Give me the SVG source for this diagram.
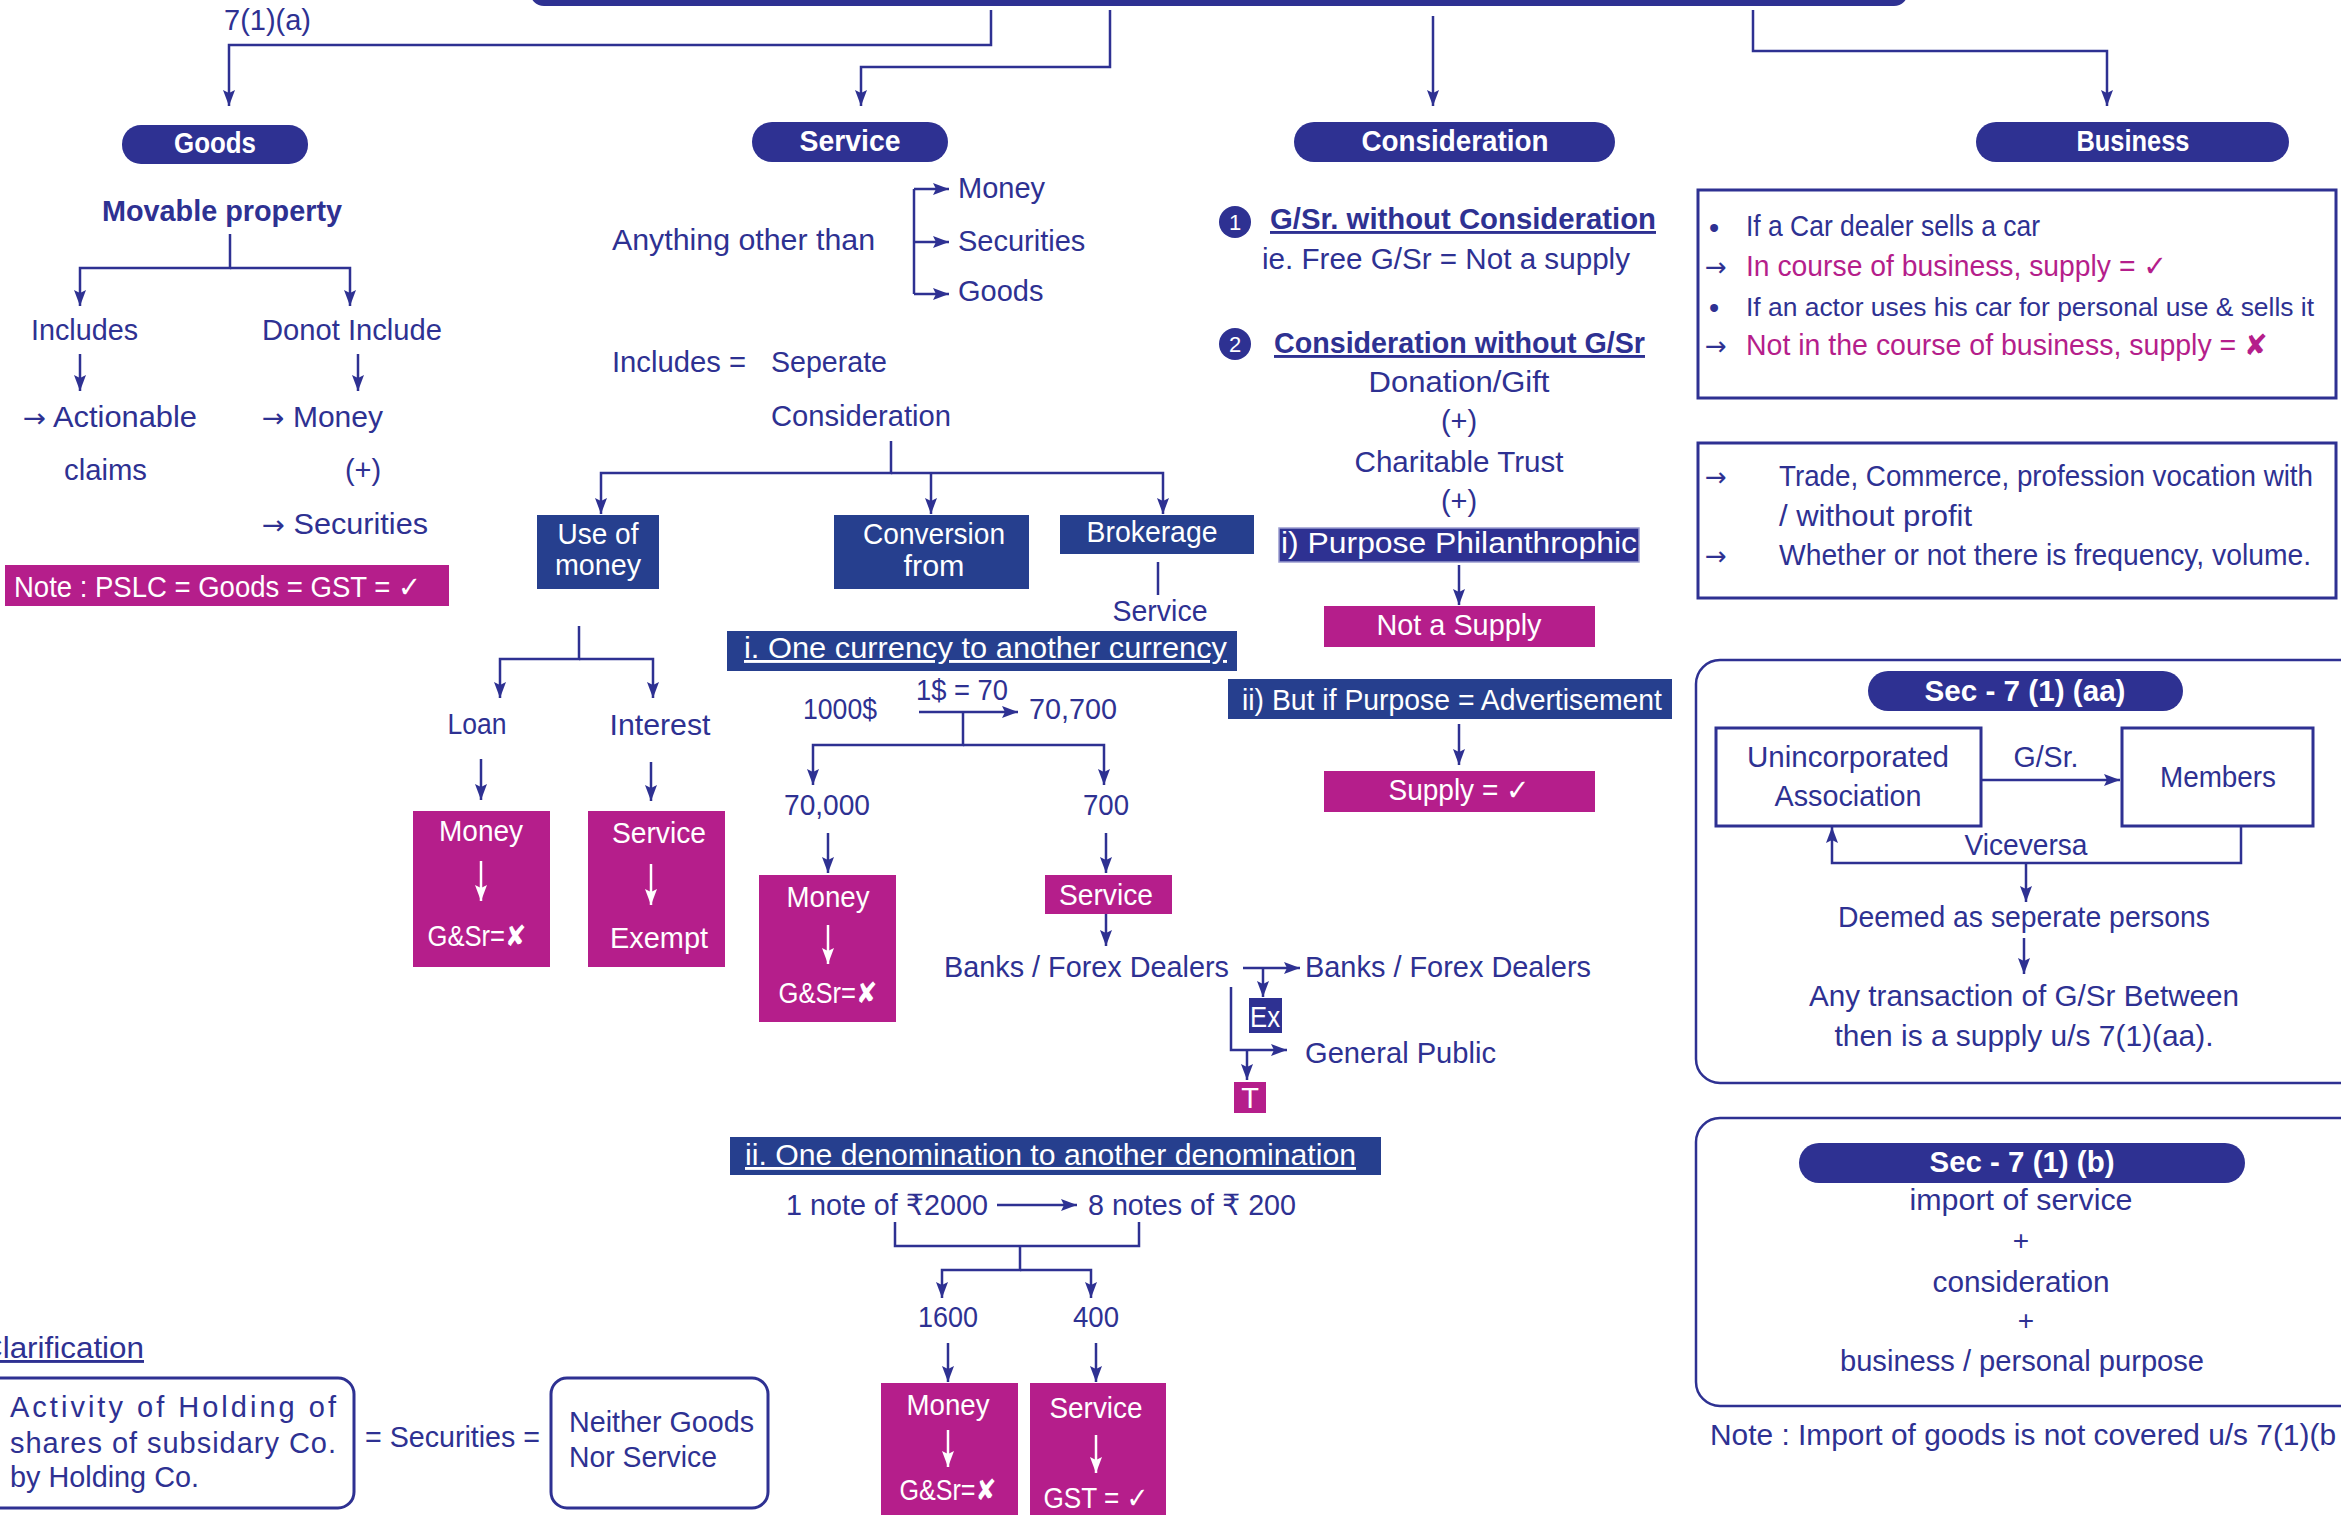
<svg xmlns="http://www.w3.org/2000/svg" width="2341" height="1515" viewBox="0 0 2341 1515">
<defs>
<marker id="ah" markerUnits="userSpaceOnUse" viewBox="0 0 16 12" refX="16" refY="6" markerWidth="16" markerHeight="12" orient="auto"><path d="M0,0 L16,6 L0,12 L3,6 Z" fill="#2E3192"/></marker>
<marker id="aw" markerUnits="userSpaceOnUse" viewBox="0 0 16 12" refX="16" refY="6" markerWidth="16" markerHeight="12" orient="auto"><path d="M0,0 L16,6 L0,12 L3,6 Z" fill="#FFFFFF"/></marker>
<style>
text{font-family:"Liberation Sans","DejaVu Sans","Noto Sans",sans-serif;font-size:29px;fill:#2E3192}
.w{fill:#FFFFFF}
.b{font-weight:bold}
.mt{fill:#B51E8B}
.c{text-anchor:middle}
.u{text-decoration:underline}
.ar{font-family:"DejaVu Sans",sans-serif;font-size:26px}
.ln{fill:none;stroke:#2E3192;stroke-width:2.5}
.arr{marker-end:url(#ah)}
.wl{fill:none;stroke:#FFFFFF;stroke-width:2.5;marker-end:url(#aw)}
.pill{fill:#2E3192}
.box{fill:#263F8E}
.mag{fill:#B51E8B}
.frame{fill:none;stroke:#2E3192;stroke-width:3}
</style>
</defs>
<rect width="2341" height="1515" fill="#FFFFFF"/>
<g id="top-bar"><rect x="530" y="-40" width="1378" height="46" rx="14" class="pill"/></g>

<g id="connectors">
<path d="M991,10 V45 H229 V106" class="ln arr"/>
<path d="M1110,10 V67 H861 V106" class="ln arr"/>
<path d="M1433,16 V106" class="ln arr"/>
<path d="M1753,10 V51 H2107 V106" class="ln arr"/>
<path d="M230,234 V268 H80 V306" class="ln arr"/>
<path d="M230,268 H350 V306" class="ln arr"/>
<path d="M80,354 V391" class="ln arr"/>
<path d="M358,354 V391" class="ln arr"/>
<path d="M914,189 V294" class="ln"/>
<path d="M914,189 H949" class="ln arr"/>
<path d="M914,242 H949" class="ln arr"/>
<path d="M914,294 H949" class="ln arr"/>
<path d="M891,441 V473 H601 V514" class="ln arr"/>
<path d="M891,473 H1163 V514" class="ln arr"/>
<path d="M931,473 V514" class="ln arr"/>
<path d="M1158,562 V595" class="ln"/>
<path d="M579,626 V659 H500 V698" class="ln arr"/>
<path d="M579,659 H653 V698" class="ln arr"/>
<path d="M481,759 V800" class="ln arr"/>
<path d="M651,762 V801" class="ln arr"/>
<path d="M919,712 H1018" class="ln arr"/>
<path d="M963,712 V745 H813 V785" class="ln arr"/>
<path d="M963,745 H1104 V785" class="ln arr"/>
<path d="M828,833 V873" class="ln arr"/>
<path d="M1106,833 V873" class="ln arr"/>
<path d="M1106,914 V946" class="ln arr"/>
<path d="M1243,968 H1300" class="ln arr"/>
<path d="M1263,968 V997" class="ln arr"/>
<path d="M1231,987 V1050 H1287" class="ln arr"/>
<path d="M1247,1050 V1080" class="ln arr"/>
<path d="M997,1205 H1077" class="ln arr"/>
<path d="M895,1222 V1246 H1139 V1222" class="ln"/>
<path d="M1020,1246 V1270 H942 V1298" class="ln arr"/>
<path d="M1020,1270 H1091 V1298" class="ln arr"/>
<path d="M948,1343 V1382" class="ln arr"/>
<path d="M1096,1343 V1382" class="ln arr"/>
<path d="M1459,565 V605" class="ln arr"/>
<path d="M1459,724 V765" class="ln arr"/>
<path d="M1981,780 H2120" class="ln arr"/>
<path d="M2241,826 V863 H1832 V827" class="ln arr"/>
<path d="M2026,863 V902" class="ln arr"/>
<path d="M2024,938 V974" class="ln arr"/>
</g>

<g id="label-7-1-a"><text x="224" y="30" textLength="87" lengthAdjust="spacingAndGlyphs">7(1)(a)</text></g>

<g id="goods">
<rect x="122" y="125" width="186" height="39" rx="19" class="pill"/>
<text x="215" y="153" class="w b c" textLength="82" lengthAdjust="spacingAndGlyphs">Goods</text>
<text x="102" y="221" class="b" textLength="240" lengthAdjust="spacingAndGlyphs">Movable property</text>
<text x="31" y="340" textLength="107" lengthAdjust="spacingAndGlyphs">Includes</text>
<text x="262" y="340" textLength="180" lengthAdjust="spacingAndGlyphs">Donot Include</text>
<text x="23" y="427" textLength="174" lengthAdjust="spacingAndGlyphs"><tspan class="ar">→</tspan> Actionable</text>
<text x="64" y="480" textLength="83" lengthAdjust="spacingAndGlyphs">claims</text>
<text x="262" y="427" textLength="121" lengthAdjust="spacingAndGlyphs"><tspan class="ar">→</tspan> Money</text>
<text x="363" y="480" class="c">(+)</text>
<text x="262" y="534" textLength="166" lengthAdjust="spacingAndGlyphs"><tspan class="ar">→</tspan> Securities</text>
</g>
<g id="note-pslc">
<rect x="5" y="565" width="444" height="41" class="mag"/>
<text x="14" y="597" class="w" textLength="407" lengthAdjust="spacingAndGlyphs">Note : PSLC = Goods = GST = ✓</text>
</g>

<g id="service">
<rect x="752" y="122" width="196" height="40" rx="20" class="pill"/>
<text x="850" y="151" class="w b c" textLength="101" lengthAdjust="spacingAndGlyphs">Service</text>
<text x="612" y="250" textLength="263" lengthAdjust="spacingAndGlyphs">Anything other than</text>
<text x="958" y="198">Money</text>
<text x="958" y="251">Securities</text>
<text x="958" y="301">Goods</text>
<text x="612" y="372" textLength="134" lengthAdjust="spacingAndGlyphs">Includes =</text>
<text x="771" y="372" textLength="116" lengthAdjust="spacingAndGlyphs">Seperate</text>
<text x="771" y="426" textLength="180" lengthAdjust="spacingAndGlyphs">Consideration</text>
</g>

<g id="use-of-money">
<rect x="537" y="515" width="122" height="74" class="box"/>
<text x="598" y="544" class="w c" textLength="81" lengthAdjust="spacingAndGlyphs">Use of</text>
<text x="598" y="575" class="w c" textLength="86" lengthAdjust="spacingAndGlyphs">money</text>
</g>
<g id="conversion-from">
<rect x="834" y="515" width="195" height="74" class="box"/>
<text x="934" y="544" class="w c" textLength="142" lengthAdjust="spacingAndGlyphs">Conversion</text>
<text x="934" y="576" class="w c" textLength="61" lengthAdjust="spacingAndGlyphs">from</text>
</g>
<g id="brokerage">
<rect x="1060" y="515" width="194" height="39" class="box"/>
<text x="1152" y="542" class="w c" textLength="131" lengthAdjust="spacingAndGlyphs">Brokerage</text>
<text x="1160" y="621" class="c" textLength="95" lengthAdjust="spacingAndGlyphs">Service</text>
</g>
<g id="one-currency">
<rect x="727" y="631" width="510" height="40" class="box"/>
<text x="744" y="658" class="w u" textLength="483" lengthAdjust="spacingAndGlyphs">i. One currency  to another currency</text>
</g>

<g id="loan-interest">
<text x="477" y="734" class="c" textLength="59" lengthAdjust="spacingAndGlyphs">Loan</text>
<text x="660" y="735" class="c" textLength="101" lengthAdjust="spacingAndGlyphs">Interest</text>
</g>
<g id="loan-money">
<rect x="413" y="811" width="137" height="156" class="mag"/>
<text x="481" y="841" class="w c" textLength="84" lengthAdjust="spacingAndGlyphs">Money</text>
<path d="M481,861 V901" class="wl"/>
<text x="477" y="946" class="w c" textLength="99" lengthAdjust="spacingAndGlyphs">G&amp;Sr=✘</text>
</g>
<g id="interest-service">
<rect x="588" y="811" width="137" height="156" class="mag"/>
<text x="659" y="843" class="w c" textLength="94" lengthAdjust="spacingAndGlyphs">Service</text>
<path d="M651,864 V905" class="wl"/>
<text x="659" y="948" class="w c" textLength="98" lengthAdjust="spacingAndGlyphs">Exempt</text>
</g>

<g id="currency-example">
<text x="916" y="700" textLength="92" lengthAdjust="spacingAndGlyphs">1$ = 70</text>
<text x="803" y="719" textLength="74" lengthAdjust="spacingAndGlyphs">1000$</text>
<text x="1029" y="719" textLength="88" lengthAdjust="spacingAndGlyphs">70,700</text>
<text x="827" y="815" class="c" textLength="86" lengthAdjust="spacingAndGlyphs">70,000</text>
<text x="1106" y="815" class="c" textLength="46" lengthAdjust="spacingAndGlyphs">700</text>
</g>
<g id="currency-money">
<rect x="759" y="875" width="137" height="147" class="mag"/>
<text x="828" y="907" class="w c" textLength="83" lengthAdjust="spacingAndGlyphs">Money</text>
<path d="M828,925 V964" class="wl"/>
<text x="828" y="1003" class="w c" textLength="99" lengthAdjust="spacingAndGlyphs">G&amp;Sr=✘</text>
</g>
<g id="currency-service">
<rect x="1045" y="875" width="127" height="39" class="mag"/>
<text x="1106" y="905" class="w c" textLength="94" lengthAdjust="spacingAndGlyphs">Service</text>
</g>
<g id="banks">
<text x="944" y="977" textLength="285" lengthAdjust="spacingAndGlyphs">Banks / Forex Dealers</text>
<text x="1305" y="977" textLength="286" lengthAdjust="spacingAndGlyphs">Banks / Forex Dealers</text>
<text x="1305" y="1063" textLength="191" lengthAdjust="spacingAndGlyphs">General Public</text>
</g>
<g id="ex-box">
<rect x="1249" y="998" width="33" height="35" fill="#2E3192"/>
<text x="1265" y="1027" class="w c" textLength="30" lengthAdjust="spacingAndGlyphs">Ex</text>
</g>
<g id="t-box">
<rect x="1234" y="1082" width="32" height="31" class="mag"/>
<text x="1250" y="1108" class="w c">T</text>
</g>

<g id="one-denomination">
<rect x="730" y="1137" width="651" height="38" class="box"/>
<text x="745" y="1165" class="w u" textLength="611" lengthAdjust="spacingAndGlyphs">ii. One denomination to another denomination</text>
</g>
<g id="denomination-example">
<text x="786" y="1215" textLength="202" lengthAdjust="spacingAndGlyphs">1 note of ₹2000</text>
<text x="1088" y="1215" textLength="208" lengthAdjust="spacingAndGlyphs">8 notes of ₹ 200</text>
<text x="948" y="1327" class="c" textLength="60" lengthAdjust="spacingAndGlyphs">1600</text>
<text x="1096" y="1327" class="c" textLength="46" lengthAdjust="spacingAndGlyphs">400</text>
</g>
<g id="denom-money">
<rect x="881" y="1383" width="137" height="140" class="mag"/>
<text x="948" y="1415" class="w c" textLength="83" lengthAdjust="spacingAndGlyphs">Money</text>
<path d="M948,1430 V1467" class="wl"/>
<text x="948" y="1500" class="w c" textLength="97" lengthAdjust="spacingAndGlyphs">G&amp;Sr=✘</text>
</g>
<g id="denom-service">
<rect x="1030" y="1383" width="136" height="140" class="mag"/>
<text x="1096" y="1418" class="w c" textLength="93" lengthAdjust="spacingAndGlyphs">Service</text>
<path d="M1096,1435 V1473" class="wl"/>
<text x="1096" y="1508" class="w c" textLength="105" lengthAdjust="spacingAndGlyphs">GST = ✓</text>
</g>

<g id="clarification">
<text x="-20" y="1358" class="u" textLength="164" lengthAdjust="spacingAndGlyphs">Clarification</text>
</g>
<g id="holding-activity">
<rect x="-20" y="1378" width="374" height="130" rx="16" class="frame"/>
<text x="10" y="1417" textLength="326" lengthAdjust="spacing">Activity of Holding of</text>
<text x="10" y="1453" textLength="326" lengthAdjust="spacing">shares of subsidary Co.</text>
<text x="10" y="1487" textLength="189" lengthAdjust="spacingAndGlyphs">by Holding Co.</text>
</g>
<g id="securities-eq"><text x="365" y="1447" textLength="175" lengthAdjust="spacingAndGlyphs">= Securities =</text></g>
<g id="neither">
<rect x="551" y="1378" width="217" height="130" rx="16" class="frame"/>
<text x="569" y="1432" textLength="185" lengthAdjust="spacingAndGlyphs">Neither Goods</text>
<text x="569" y="1467" textLength="148" lengthAdjust="spacingAndGlyphs">Nor Service</text>
</g>

<g id="consideration">
<rect x="1294" y="122" width="321" height="40" rx="20" class="pill"/>
<text x="1455" y="151" class="w b c" textLength="187" lengthAdjust="spacingAndGlyphs">Consideration</text>
<circle cx="1235" cy="222" r="16" fill="#2E3192"/>
<text x="1235" y="230" class="w c" style="font-size:22px">1</text>
<text x="1270" y="229" class="b u" textLength="386" lengthAdjust="spacingAndGlyphs">G/Sr. without Consideration </text>
<text x="1262" y="269" textLength="368" lengthAdjust="spacingAndGlyphs">ie. Free G/Sr = Not a supply</text>
<circle cx="1235" cy="344" r="16" fill="#2E3192"/>
<text x="1235" y="352" class="w c" style="font-size:22px">2</text>
<text x="1274" y="353" class="b u" textLength="371" lengthAdjust="spacingAndGlyphs">Consideration without G/Sr</text>
<text x="1459" y="392" class="c" textLength="181" lengthAdjust="spacingAndGlyphs">Donation/Gift</text>
<text x="1459" y="431" class="c">(+)</text>
<text x="1459" y="472" class="c" textLength="209" lengthAdjust="spacingAndGlyphs">Charitable Trust</text>
<text x="1459" y="511" class="c">(+)</text>
</g>
<g id="philanthropic">
<rect x="1279" y="528" width="360" height="34" fill="#2E3192" stroke="#9A9CCF" stroke-width="1.5"/>
<text x="1281" y="553" class="w" style="font-size:30px" textLength="356" lengthAdjust="spacingAndGlyphs">i) Purpose Philanthrophic</text>
</g>
<g id="not-a-supply">
<rect x="1324" y="606" width="271" height="41" class="mag"/>
<text x="1459" y="635" class="w c" textLength="165" lengthAdjust="spacingAndGlyphs">Not a Supply</text>
</g>
<g id="advertisement">
<rect x="1228" y="679" width="444" height="40" class="box"/>
<text x="1242" y="710" class="w" textLength="420" lengthAdjust="spacingAndGlyphs">ii) But if Purpose = Advertisement</text>
</g>
<g id="supply-yes">
<rect x="1324" y="771" width="271" height="41" class="mag"/>
<text x="1459" y="800" class="w c" textLength="141" lengthAdjust="spacingAndGlyphs">Supply = ✓</text>
</g>

<g id="business">
<rect x="1976" y="122" width="313" height="40" rx="20" class="pill"/>
<text x="2133" y="151" class="w b c" textLength="113" lengthAdjust="spacingAndGlyphs">Business</text>
</g>
<g id="business-examples">
<rect x="1698" y="190" width="638" height="208" class="frame"/>
<text x="1709" y="238">•</text>
<text x="1746" y="236" textLength="294" lengthAdjust="spacingAndGlyphs">If a Car dealer sells a car</text>
<text x="1705" y="276" class="ar">→</text>
<text x="1746" y="276" class="mt" textLength="421" lengthAdjust="spacingAndGlyphs">In course of business, supply = ✓</text>
<text x="1709" y="318">•</text>
<text x="1746" y="316" style="font-size:26.5px" textLength="568" lengthAdjust="spacingAndGlyphs">If an actor uses his car for personal use &amp; sells it</text>
<text x="1705" y="355" class="ar">→</text>
<text x="1746" y="355" class="mt" textLength="522" lengthAdjust="spacingAndGlyphs">Not in the course of business, supply = ✘</text>
</g>
<g id="business-definition">
<rect x="1698" y="443" width="638" height="155" class="frame"/>
<text x="1705" y="486" class="ar">→</text>
<text x="1779" y="486" textLength="534" lengthAdjust="spacingAndGlyphs">Trade, Commerce, profession vocation with</text>
<text x="1779" y="526" textLength="193" lengthAdjust="spacingAndGlyphs">/ without profit</text>
<text x="1705" y="565" class="ar">→</text>
<text x="1779" y="565" textLength="532" lengthAdjust="spacingAndGlyphs">Whether or not there is frequency, volume.</text>
</g>

<g id="sec-7-1-aa">
<rect x="1696" y="660" width="680" height="423" rx="24" class="frame" style="stroke-width:2.5"/>
<rect x="1868" y="671" width="315" height="40" rx="20" class="pill"/>
<text x="2025" y="701" class="w b c" textLength="201" lengthAdjust="spacingAndGlyphs">Sec - 7 (1) (aa)</text>
</g>
<g id="unincorporated">
<rect x="1716" y="728" width="265" height="98" class="frame"/>
<text x="1848" y="767" class="c" textLength="202" lengthAdjust="spacingAndGlyphs">Unincorporated</text>
<text x="1848" y="806" class="c" textLength="147" lengthAdjust="spacingAndGlyphs">Association</text>
</g>
<g id="members">
<rect x="2122" y="728" width="191" height="98" class="frame"/>
<text x="2218" y="787" class="c" textLength="116" lengthAdjust="spacingAndGlyphs">Members</text>
</g>
<g id="aa-texts">
<text x="2046" y="767" class="c" textLength="65" lengthAdjust="spacingAndGlyphs">G/Sr.</text>
<text x="2026" y="855" class="c" textLength="123" lengthAdjust="spacingAndGlyphs">Viceversa</text>
<text x="2024" y="927" class="c" textLength="372" lengthAdjust="spacingAndGlyphs">Deemed as seperate persons</text>
<text x="2024" y="1006" class="c" textLength="430" lengthAdjust="spacingAndGlyphs">Any transaction of G/Sr Between</text>
<text x="2024" y="1046" class="c" textLength="379" lengthAdjust="spacingAndGlyphs">then is a supply u/s 7(1)(aa).</text>
</g>

<g id="sec-7-1-b">
<rect x="1696" y="1118" width="680" height="288" rx="24" class="frame" style="stroke-width:2.5"/>
<rect x="1799" y="1143" width="446" height="40" rx="20" class="pill"/>
<text x="2022" y="1172" class="w b c" textLength="185" lengthAdjust="spacingAndGlyphs">Sec - 7 (1) (b)</text>
<text x="2021" y="1210" class="c" textLength="223" lengthAdjust="spacingAndGlyphs">import of service</text>
<text x="2021" y="1250" class="c" style="font-size:28px">+</text>
<text x="2021" y="1292" class="c" textLength="177" lengthAdjust="spacingAndGlyphs">consideration</text>
<text x="2026" y="1330" class="c" style="font-size:28px">+</text>
<text x="2022" y="1371" class="c" textLength="364" lengthAdjust="spacingAndGlyphs">business / personal purpose</text>
</g>
<g id="note-import">
<text x="1710" y="1445" textLength="626" lengthAdjust="spacingAndGlyphs">Note : Import of goods is not covered u/s 7(1)(b</text>
</g>
</svg>
